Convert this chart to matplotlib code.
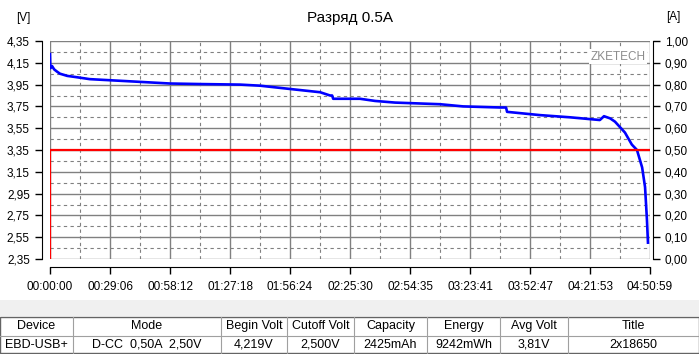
import matplotlib
matplotlib.use('Agg')
import matplotlib.pyplot as plt
from matplotlib.patches import Rectangle
import numpy as np

plt.rcParams['font.family'] = ['Liberation Sans', 'DejaVu Sans']

# Данные разряда (время в секундах, напряжение в вольтах)
tiempo_v = [0, 10, 30, 60, 120, 200, 290, 500, 730, 1160, 2330, 3490, 4365,
            5530, 6110, 6980, 7860, 8150, 8210, 8240, 9020, 9460, 10040, 11350,
            12020, 13090, 13270, 13300, 14260, 15130, 16000, 16120, 16300, 16440,
            16730, 16930, 17080, 17230, 17315, 17370, 17400]
voltaje = [4.23, 4.10, 4.11, 4.12, 4.09, 4.07, 4.05, 4.03, 4.02, 4.00, 3.98, 3.96, 3.955,
           3.95, 3.94, 3.91, 3.88, 3.85, 3.85, 3.82, 3.82, 3.80, 3.785, 3.77,
           3.75, 3.74, 3.74, 3.70, 3.67, 3.65, 3.625, 3.66, 3.64, 3.61,
           3.51, 3.40, 3.35, 3.19, 3.01, 2.71, 2.50]

tiempo_a = [0, 0, 17459]
corriente = [0.0, 0.50, 0.50]

t_total = 17459
v_min, v_max = 2.35, 4.35
a_min, a_max = 0.0, 1.0

titulo = 'Разряд 0.5A'
marca = 'ZKETECH'

columnas = ['Device', 'Mode', 'Begin Volt', 'Cutoff Volt', 'Capacity', 'Energy', 'Avg Volt', 'Title']
valores = ['EBD-USB+', 'D-CC  0,50A  2,50V', '4,219V', '2,500V', '2425mAh', '9242mWh', '3,81V', '2x18650']
bordes = [0, 73, 221, 287, 354, 427, 500, 568, 699]


def hms(s):
    s = int(round(s))
    return f'{s // 3600:02d}:{(s % 3600) // 60:02d}:{s % 60:02d}'


W, H = 699, 354
fig = plt.figure(figsize=(W / 100, H / 100), dpi=100)
fig.patch.set_facecolor('white')

ax = fig.add_axes([50 / W, 1 - 259 / H, 600 / W, 218 / H])
ax2 = ax.twinx()

gris = '#808080'
ax.set_xlim(0, t_total)
ax.set_ylim(v_min, v_max)
ax2.set_ylim(a_min, a_max)

xt = np.linspace(0, t_total, 11)
ax.set_xticks(xt)
ax.set_xticklabels([hms(s) for s in xt])
ax.set_xticks((xt[:-1] + xt[1:]) / 2, minor=True)

yt = np.linspace(v_min, v_max, 11)
ax.set_yticks(yt)
ax.set_yticklabels([f'{v:.2f}'.replace('.', ',') for v in yt])
ax.set_yticks((yt[:-1] + yt[1:]) / 2, minor=True)

at = np.linspace(a_min, a_max, 11)
ax2.set_yticks(at)
ax2.set_yticklabels([f'{a:.2f}'.replace('.', ',') for a in at])

ax.grid(True, which='major', color=gris, linewidth=1.0)
ax.grid(True, which='minor', color=gris, linewidth=0.8, linestyle=(0, (3, 3)))
ax.set_axisbelow(True)

ax.tick_params(which='minor', length=0)
ax.tick_params(which='major', length=5, width=1, labelsize=8.5, direction='out')
ax.tick_params(axis='x', pad=5)
ax2.tick_params(length=5, width=1, labelsize=8.5, direction='out')

for s in ['top', 'right']:
    ax.spines[s].set_visible(False)
for s in ['top', 'left', 'bottom']:
    ax2.spines[s].set_visible(False)
ax.spines['left'].set_position(('outward', 6))
ax.spines['bottom'].set_position(('outward', 6))
ax2.spines['right'].set_position(('outward', 2))

ax.plot(tiempo_v, voltaje, color='#0000ff', linewidth=1.9, zorder=3)
ax2.plot(tiempo_a, corriente, color='#ff0000', linewidth=1.6, zorder=3)

ax.text(0.992, 0.927, marca, transform=ax.transAxes, ha='right', va='center',
        fontsize=8.5, color='#8c8c8c', zorder=4,
        bbox=dict(facecolor='white', edgecolor='none', pad=1.0))

fig.text(350 / W, 1 - 18 / H, titulo, ha='center', va='center', fontsize=11)
fig.text(23 / W, 1 - 18 / H, '[V]', ha='center', va='center', fontsize=8.5)
fig.text(673 / W, 1 - 17 / H, '[A]', ha='center', va='center', fontsize=8.5)

# Tabla inferior
tab = fig.add_axes([0, 0, 1, 54 / H])
tab.set_xlim(0, W)
tab.set_ylim(H, 300)
tab.axis('off')
tab.add_patch(Rectangle((0, 300), W, 16, facecolor='#f0f0f0', edgecolor='none'))
tab.add_patch(Rectangle((0, 316.5), W, 36.5, facecolor='white', edgecolor='#646464', linewidth=1))
tab.plot([0, W], [335.5, 335.5], color='#a0a0a0', linewidth=0.8)
for b in bordes[1:-1]:
    tab.plot([b, b], [316.5, 353], color='#a0a0a0', linewidth=0.8)
for i in range(len(columnas)):
    cx = (bordes[i] + bordes[i + 1]) / 2
    tab.text(cx, 326, columnas[i], ha='center', va='center', fontsize=9)
    tab.text(cx, 344.5, valores[i], ha='center', va='center', fontsize=9)

fig.savefig('out.png', dpi=100)
